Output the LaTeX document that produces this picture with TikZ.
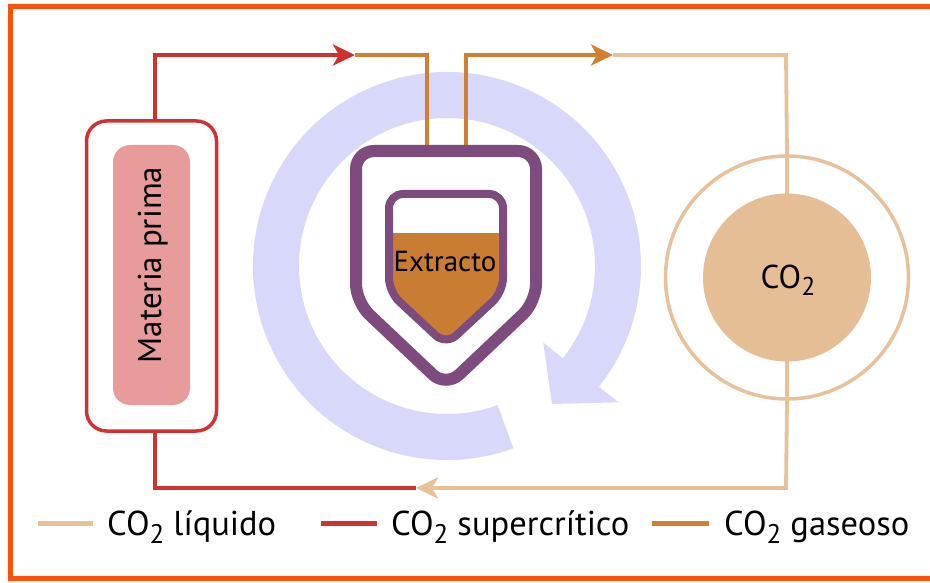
\documentclass[tikz,border=0pt]{standalone}
\usepackage{fontspec}
\setmainfont{PT Sans}
\usetikzlibrary{arrows.meta,calc}
\definecolor{framec}{RGB}{255,80,10}
\definecolor{redc}{RGB}{208,50,50}
\definecolor{orc}{RGB}{208,128,48}
\definecolor{tanc}{RGB}{232,192,154}
\definecolor{purc}{RGB}{125,75,125}
\definecolor{extc}{RGB}{200,125,50}
\definecolor{pinkc}{RGB}{232,155,155}
\definecolor{lavc}{RGB}{216,216,250}
\definecolor{co2c}{RGB}{230,190,150}
\newcommand{\cotwo}{CO\raisebox{-0.24em}{\scalebox{0.78}{2}}}
\tikzset{
  pipe/.style={line width=3.8pt},
  tip/.style={-{Stealth[length=22pt,width=21pt,inset=6pt]}},
  legline/.style={line width=5pt},
  legtext/.style={anchor=base west,font=\fontsize{34.5}{40}\selectfont,inner sep=0pt},
}
\begin{document}
\begin{tikzpicture}[x=1pt,y=-1pt]
\useasboundingbox (0,0) rectangle (930,583);
\fill[white] (0,0) rectangle (930,583);
% frame
\draw[framec,line width=5pt] (930,6.5) -- (10,6.5) -- (10,578) -- (930,578);

% circular arrow
\begin{scope}[shift={(447,266)}]
\fill[lavc] (70:194) arc[start angle=70,end angle=398.5,radius=194]
  -- (38.5:148) arc[start angle=398.5,end angle=70,radius=148] -- cycle;
\fill[lavc] (38.5:123) -- (38.5:219) -- (105,138) -- cycle;
\end{scope}

% nodes
\node[draw=redc,line width=3.5pt,rounded corners=20pt,minimum width=130pt,minimum height=310pt,fill=white] (mp) at (151.5,276) {};
\node[fill=pinkc,rounded corners=17pt,minimum width=77pt,minimum height=260pt,inner sep=0pt] (mpin) at (151.5,275) {};
\node[rotate=90,anchor=base,font=\fontsize{33}{40}\selectfont,inner sep=0pt] (mptxt) at (161,265) {Materia prima};

\node[draw=tanc,line width=3.5pt,circle,minimum size=243pt,inner sep=0pt] (co2out) at (787,277.5) {};

% coordinates for connectors
\coordinate (r1) at (155,55);
\coordinate (ar1) at (355,55);
\coordinate (o1) at (427,55);
\coordinate (v1) at (427,151);
\coordinate (v2) at (466,151);
\coordinate (o2) at (466,55);
\coordinate (ar2) at (613,55);
\coordinate (t1) at (786,55);
\coordinate (t2) at (786,488);
\coordinate (ar3) at (416,488);
\coordinate (r2) at (155,488);

% connectors
\draw[redc,pipe,tip] (mp.north -| r1) -- (r1) -- (ar1);
\draw[orc,pipe] (ar1) -- (o1) -- (v1);
\draw[orc,pipe,tip] (v2) -- (o2) -- (ar2);
\draw[tanc,pipe] (ar2) -- (t1) -- (co2out.north);
\draw[tanc,pipe] (co2out.north) -- (co2out.south);
\draw[tanc,pipe,tip] (co2out.south) -- (t2) -- (ar3);
\draw[redc,pipe] (ar3) -- (r2) -- (mp.south -| r2);

% CO2 tank inner
\node[fill=co2c,circle,minimum size=168pt,inner sep=0pt] (co2in) at (787,277.5) {};
\node[anchor=base,font=\fontsize{33}{40}\selectfont,inner sep=0pt] (co2txt) at (788,288) {\cotwo};

% vessel
\draw[purc,line width=12pt,fill=white,rounded corners=18pt]
  (446,151) -- (536,151) -- (536,302) -- (446,387) -- (356,302) -- (356,151) -- cycle;
\begin{scope}
\clip[rounded corners=14pt] (446,194) -- (503,194) -- (503,292) -- (446,345) -- (389,292) -- (389,194) -- cycle;
\fill[white] (380,185) rectangle (512,233);
\fill[extc] (380,233) rectangle (512,355);
\end{scope}
\draw[purc,line width=8pt,rounded corners=14pt]
  (446,194) -- (503,194) -- (503,292) -- (446,345) -- (389,292) -- (389,194) -- cycle;
\node[anchor=base,font=\fontsize{29}{34}\selectfont,inner sep=0pt] (ext) at (445,272) {Extracto};

% legend
\coordinate (l1a) at (38,523); \coordinate (l1b) at (93,523);
\coordinate (l2a) at (321,523); \coordinate (l2b) at (377,523);
\coordinate (l3a) at (652,523); \coordinate (l3b) at (709,523);
\draw[tanc,legline] (l1a) -- (l1b);
\draw[redc,legline] (l2a) -- (l2b);
\draw[orc,legline] (l3a) -- (l3b);
\node[legtext] (lt1) at (107,535) {\cotwo{} líquido};
\node[legtext] (lt2) at (391,535) {\cotwo{} supercrítico};
\node[legtext] (lt3) at (724,535) {\cotwo{} gaseoso};
\end{tikzpicture}
\end{document}
